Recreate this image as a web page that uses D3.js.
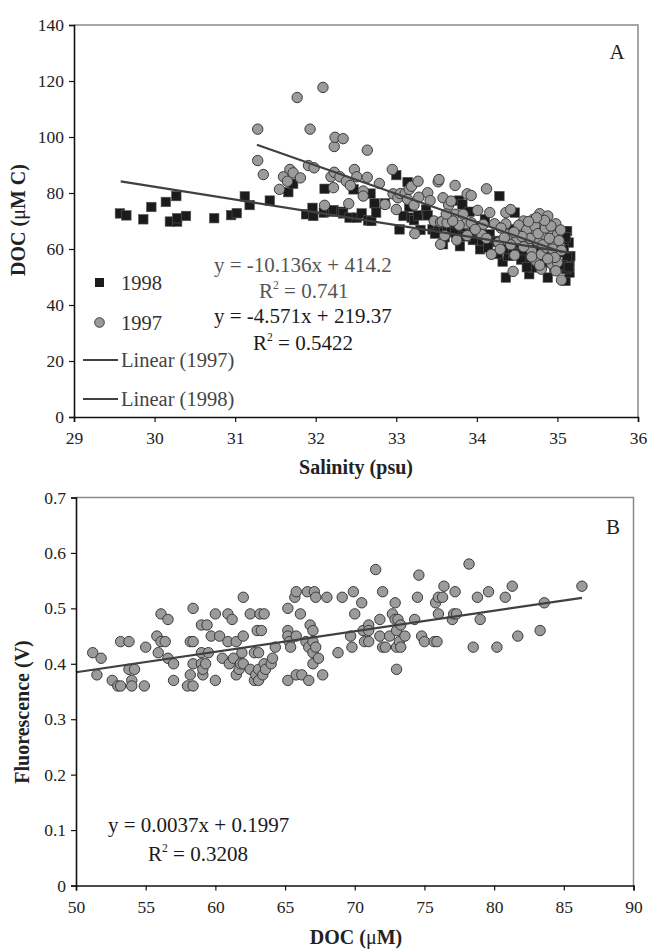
<!DOCTYPE html>
<html>
<head>
<meta charset="utf-8">
<script src="https://cdn.jsdelivr.net/npm/d3@7"></script>
<style>
  body { margin: 0; background: #fff; }
  svg { display: block; font-family: "Liberation Serif", "Times New Roman", serif; }
</style>
</head>
<body>
<svg id="chart" width="648" height="950"></svg>
<script>
// ---- Panel A: DOC vs salinity, two survey years ----
const sal1998 = [29.57,29.65,29.86,29.96,30.14,30.19,30.27,30.28,30.28,30.39,30.74,30.95,31.02,31.12,31.18,31.43,31.66,31.72,31.88,31.96,31.97,32.11,32.10,32.19,32.22,32.32,32.34,32.42,32.47,32.51,32.57,32.65,32.68,32.69,32.73,32.75,32.86,33.00,33.04,33.09,33.14,33.16,33.19,33.22,33.27,33.37,33.39,33.45,33.52,33.58,33.63,33.68,33.73,33.78,33.79,33.82,33.83,33.91,33.93,33.96,34.04,34.06,34.10,34.16,34.24,34.28,34.32,34.36,34.39,34.47,34.50,34.53,34.58,34.63,34.65,34.70,34.75,34.80,34.86,34.88,34.96,35.04,35.09,35.10,35.12,35.14,35.15,35.15,35.16,35.11,34.35,34.45,34.55,34.62,34.72,34.92,35.08,35.12,35.06,34.20,33.95,33.60,33.48,33.30,34.40,34.52,34.76,34.98,35.10,34.02,33.86,34.68,34.84,35.14,34.26,34.14];
const doc1998 = [72.7,72.0,70.6,75.0,76.8,69.8,78.9,69.8,71.0,71.8,71.0,72.1,72.8,78.8,75.7,77.3,80.3,83.3,72.4,74.7,71.8,81.5,73.0,73.3,73.9,73.3,72.7,71.2,81.3,71.2,72.7,70.2,79.8,70.0,76.3,73.0,76.3,86.4,67.0,71.8,83.9,75.0,71.2,70.3,72.0,74.1,72.0,67.0,66.4,61.7,66.4,67.6,65.8,77.3,61.0,75.9,66.4,73.3,65.2,68.2,59.9,62.9,70.6,65.2,62.9,78.9,55.5,49.8,57.5,73.0,66.4,60.5,58.1,55.2,51.0,53.4,56.9,63.5,58.1,49.8,53.4,58.7,66.4,48.6,66.4,62.3,55.2,51.6,57.5,52.8,60.0,58.5,56.2,53.5,57.5,55.5,60.0,57.2,54.2,62.5,63.2,64.2,65.5,66.8,67.0,62.2,60.2,61.0,64.2,68.2,64.5,62.8,55.2,53.5,58.2,60.5];

const sal1997 = [31.28,31.28,31.35,31.55,31.60,31.65,31.68,31.72,31.77,31.81,31.91,31.93,31.98,32.09,32.11,32.19,32.22,32.23,32.24,32.23,32.30,32.34,32.38,32.41,32.43,32.48,32.51,32.59,32.59,32.64,32.64,32.79,32.86,32.95,32.96,33.00,33.02,33.05,33.11,33.14,33.16,33.19,33.22,33.23,33.27,33.28,33.39,33.42,33.47,33.52,33.53,33.55,33.55,33.57,33.58,33.60,33.63,33.65,33.68,33.73,33.73,33.75,33.83,33.86,33.88,33.93,33.93,34.01,34.04,34.06,34.12,34.16,34.18,34.22,34.27,34.29,34.36,34.36,34.39,34.42,34.45,34.47,34.50,34.55,34.58,34.60,34.63,34.68,34.70,34.70,34.73,34.75,34.78,34.80,34.80,34.83,34.80,34.86,34.88,34.91,34.93,34.93,34.96,34.98,35.00,35.00,35.03,35.05,34.98,34.52,34.62,34.66,34.72,34.76,34.82,34.85,34.90,34.94,34.97,35.02,35.05,34.68,34.58,34.88,34.78,35.04,34.92,34.84,34.74,34.64,34.56,34.46,34.42,34.34,34.30,34.12,34.08,33.98,33.88,33.78,33.70,33.62];
const doc1997 = [102.8,91.6,86.6,81.3,85.8,84.2,88.4,87.2,114.1,85.4,89.8,102.8,89.0,117.7,75.6,85.8,81.9,96.6,99.9,87.4,85.8,99.4,84.2,76.2,82.7,88.4,85.8,80.7,78.9,95.3,85.6,83.4,75.9,88.4,79.7,74.1,78.3,79.8,79.8,77.7,81.3,82.4,75.7,65.5,84.2,78.5,80.1,77.3,70.0,84.0,84.8,61.7,69.6,69.8,78.3,64.8,69.4,75.7,77.1,82.7,72.4,63.2,72.4,69.0,79.7,79.1,69.4,73.8,66.4,65.2,81.5,73.0,58.1,69.0,62.3,59.9,73.0,69.0,65.2,74.1,52.0,57.8,63.5,67.6,70.0,65.2,61.1,59.3,70.6,66.4,55.8,62.9,72.6,58.1,69.0,65.2,52.8,60.5,71.8,66.4,62.9,54.6,58.1,69.0,65.2,55.2,61.1,48.9,52.2,68.5,66.8,63.8,68.2,65.5,61.5,67.5,63.8,60.0,57.0,63.0,59.5,57.2,60.8,56.5,54.2,66.8,68.2,70.2,71.2,69.8,64.5,66.0,61.5,64.0,67.5,63.8,68.8,67.0,64.8,68.5,70.0,72.5];

// Least-squares fits as printed on the chart
const fitSlopeA = [-10.136, -4.571];          // 1997, 1998
const fitInterceptA = [414.2, 219.37];
const fitRangeA = [[31.27, 35.06], [29.58, 35.15]];
const fitLabelA = ["y = -10.136x + 414.2", "y = -4.571x + 219.37"];
const fitR2A = ["0.741", "0.5422"];

const ticksSal = [29, 30, 31, 32, 33, 34, 35, 36];
const ticksDocA = [0, 20, 40, 60, 80, 100, 120, 140];

// ---- Panel B: fluorescence vs DOC ----
const docB = [51.2,51.5,51.8,52.6,53.0,53.2,53.2,53.8,53.8,54.0,54.0,54.2,54.9,55.0,55.8,55.9,56.1,56.1,56.4,56.6,56.6,57.0,57.0,58.0,58.2,58.2,58.4,58.4,58.4,58.4,59.0,59.0,59.0,59.1,59.1,59.3,59.4,59.5,59.7,60.0,60.0,60.3,60.5,60.9,60.9,61.0,61.2,61.3,61.5,61.5,61.7,61.8,61.9,62.0,62.0,62.0,62.5,62.5,62.8,62.8,62.9,63.0,63.1,63.1,63.1,63.2,63.3,63.4,63.5,63.5,63.6,64.0,64.1,64.3,65.2,65.2,65.2,65.2,65.3,65.4,65.7,65.8,65.8,65.8,66.1,66.2,66.5,66.6,66.7,66.7,66.8,67.0,67.0,67.0,67.0,67.1,67.2,67.2,67.4,67.7,68.0,68.8,69.1,69.7,69.8,69.9,70.0,70.5,70.6,70.7,71.0,71.0,71.0,71.5,71.8,71.8,72.0,72.0,72.2,72.5,72.7,72.9,72.9,73.0,73.0,73.0,73.1,73.2,73.3,73.3,73.6,74.3,74.5,74.6,74.8,75.0,75.7,75.8,75.9,76.0,76.0,76.3,76.4,77.0,77.1,77.2,77.3,78.2,78.5,78.8,79.0,79.6,80.2,80.8,81.3,81.7,83.3,83.6,86.3];
const fluorB = [0.42,0.38,0.41,0.37,0.36,0.36,0.44,0.44,0.39,0.37,0.36,0.39,0.36,0.43,0.45,0.42,0.49,0.44,0.44,0.48,0.41,0.40,0.37,0.36,0.38,0.44,0.50,0.44,0.40,0.36,0.47,0.42,0.40,0.38,0.39,0.40,0.47,0.42,0.45,0.49,0.37,0.45,0.41,0.49,0.44,0.40,0.48,0.41,0.44,0.38,0.39,0.40,0.42,0.45,0.52,0.40,0.49,0.39,0.42,0.37,0.38,0.46,0.42,0.39,0.37,0.49,0.46,0.38,0.49,0.40,0.39,0.40,0.41,0.43,0.50,0.46,0.45,0.37,0.44,0.43,0.52,0.53,0.45,0.38,0.49,0.38,0.44,0.53,0.37,0.43,0.47,0.46,0.44,0.42,0.40,0.53,0.52,0.43,0.41,0.38,0.52,0.42,0.52,0.45,0.43,0.53,0.49,0.51,0.46,0.44,0.47,0.46,0.44,0.57,0.48,0.45,0.53,0.43,0.43,0.45,0.49,0.48,0.51,0.46,0.43,0.39,0.48,0.44,0.43,0.47,0.45,0.48,0.52,0.56,0.45,0.44,0.44,0.51,0.44,0.52,0.49,0.52,0.54,0.48,0.49,0.53,0.49,0.58,0.43,0.52,0.48,0.53,0.43,0.52,0.54,0.45,0.46,0.51,0.54];

const fitSlopeB = 0.0037, fitInterceptB = 0.1997;
const fitRangeB = [50, 86.3];
const fitLabelB = "y = 0.0037x + 0.1997";
const fitR2B = "0.3208";

const ticksDocB = [50, 55, 60, 65, 70, 75, 80, 85, 90];
const ticksFluor = [0, 0.1, 0.2, 0.3, 0.4, 0.5, 0.6, 0.7];

// ---------------------------------------------------------------
const svg = d3.select("#chart");
const TICK_FONT = 17.5, LEG_FONT = 20.5, EQ_FONT = 21, TITLE_FONT = 20;
const LINE_COLOR = "#404040";

function frame(g, x, y) {
  const [x0, x1] = x.range(), [y0, y1] = y.range();
  // light top/right border of the plot area
  g.append("path")
    .attr("d", `M${x0},${y1}H${x1}V${y0}`)
    .attr("fill", "none").attr("stroke", "#8a8a8a").attr("stroke-width", 1.5);
}

function axes(g, x, y, xt, yt, yFmt) {
  const ax = g.append("g").attr("transform", `translate(0,${y.range()[0]})`)
    .call(d3.axisBottom(x).tickValues(xt).tickSize(5).tickPadding(10).tickFormat(d3.format("d")));
  const ay = g.append("g").attr("transform", `translate(${x.range()[0]},0)`)
    .call(d3.axisLeft(y).tickValues(yt).tickSize(5).tickPadding(5).tickFormat(yFmt));
  [ax, ay].forEach(a => {
    a.select(".domain").attr("stroke", "#111").attr("stroke-width", 1.6);
    a.selectAll(".tick line").attr("stroke", "#111").attr("stroke-width", 1.2);
    a.selectAll(".tick text").attr("font-family", "Liberation Serif").attr("font-size", TICK_FONT).attr("fill", "#222");
  });
}

function r2Text(g, x, y, value, color) {
  const t = g.append("text").attr("x", x).attr("y", y)
    .attr("font-size", EQ_FONT).attr("fill", color);
  t.append("tspan").text("R");
  t.append("tspan").attr("font-size", EQ_FONT * 0.55).attr("dy", -9).text("2");
  t.append("tspan").attr("dy", 9).text(" = " + value);
}

function circle(g, cx, cy, r) {
  g.append("circle").attr("cx", cx).attr("cy", cy).attr("r", r)
    .attr("fill", "#9b9b9b").attr("stroke", "#3a3a3a").attr("stroke-width", 1);
}

// ===== Panel A =====
const gA = svg.append("g");
const xA = d3.scaleLinear().domain([29, 36]).range([74, 638]);
const yA = d3.scaleLinear().domain([0, 140]).range([417, 25]);
frame(gA, xA, yA);

const pts98 = sal1998.map((s, i) => [s, doc1998[i]]);
const pts97 = sal1997.map((s, i) => [s, doc1997[i]]);
const SQ = 9.5;
gA.append("g").selectAll("rect").data(pts98).join("rect")
  .attr("x", d => xA(d[0]) - SQ / 2).attr("y", d => yA(d[1]) - SQ / 2)
  .attr("width", SQ).attr("height", SQ)
  .attr("fill", "#1b1b1b").attr("stroke", "#555").attr("stroke-width", 0.6);
gA.append("g").selectAll("circle").data(pts97).join("circle")
  .attr("cx", d => xA(d[0])).attr("cy", d => yA(d[1])).attr("r", 5.2)
  .attr("fill", "#9b9b9b").attr("stroke", "#3a3a3a").attr("stroke-width", 1);

fitSlopeA.forEach((m, i) => {
  const [a, b] = fitRangeA[i];
  gA.append("line")
    .attr("x1", xA(a)).attr("y1", yA(m * a + fitInterceptA[i]))
    .attr("x2", xA(b)).attr("y2", yA(m * b + fitInterceptA[i]))
    .attr("stroke", LINE_COLOR).attr("stroke-width", 2.2);
});

axes(gA, xA, yA, ticksSal, ticksDocA, d3.format("d"));

// fit equations
const eqColorA = ["#555", "#1a1a1a"];
gA.append("text").attr("x", 214).attr("y", 272).attr("font-size", EQ_FONT).attr("fill", eqColorA[0]).text(fitLabelA[0]);
r2Text(gA, 259, 298, fitR2A[0], eqColorA[0]);
gA.append("text").attr("x", 214).attr("y", 323).attr("font-size", EQ_FONT).attr("fill", eqColorA[1]).text(fitLabelA[1]);
r2Text(gA, 253, 350, fitR2A[1], eqColorA[1]);

// legend
const leg = gA.append("g");
leg.append("rect").attr("x", 99.5 - 4.5).attr("y", 282.5 - 4.5).attr("width", 9).attr("height", 9).attr("fill", "#1b1b1b");
leg.append("text").attr("x", 121).attr("y", 289.5).attr("font-size", LEG_FONT).attr("fill", "#333").text("1998");
circle(leg, 99.5, 322.5, 4.8);
leg.append("text").attr("x", 121).attr("y", 329.5).attr("font-size", LEG_FONT).attr("fill", "#333").text("1997");
[["Linear (1997)", 360], ["Linear (1998)", 399]].forEach(([t, yy]) => {
  leg.append("line").attr("x1", 83).attr("x2", 118).attr("y1", yy).attr("y2", yy)
    .attr("stroke", LINE_COLOR).attr("stroke-width", 2);
  leg.append("text").attr("x", 121).attr("y", yy + 7).attr("font-size", LEG_FONT).attr("fill", "#444").text(t);
});

gA.append("text").attr("x", 617).attr("y", 59).attr("text-anchor", "middle").attr("font-size", EQ_FONT).attr("fill", "#222").text("A");

// axis titles
const tA = gA.append("text").attr("transform", "translate(25,220) rotate(-90)")
  .attr("text-anchor", "middle").attr("font-size", TITLE_FONT).attr("font-weight", "bold").attr("fill", "#222");
tA.append("tspan").text("DOC (");
tA.append("tspan").attr("font-weight", "normal").text("μ");
tA.append("tspan").text("M C)");
gA.append("text").attr("x", 356).attr("y", 474).attr("text-anchor", "middle")
  .attr("font-size", TITLE_FONT).attr("font-weight", "bold").attr("fill", "#222").text("Salinity (psu)");

// ===== Panel B =====
const gB = svg.append("g");
const xB = d3.scaleLinear().domain([50, 90]).range([76, 633.5]);
const yB = d3.scaleLinear().domain([0, 0.7]).range([885.5, 497.5]);
frame(gB, xB, yB);

const ptsB = docB.map((d, i) => [d, fluorB[i]]);
gB.append("g").selectAll("circle").data(ptsB).join("circle")
  .attr("cx", d => xB(d[0])).attr("cy", d => yB(d[1])).attr("r", 5.2)
  .attr("fill", "#9b9b9b").attr("stroke", "#3a3a3a").attr("stroke-width", 1);

gB.append("line")
  .attr("x1", xB(fitRangeB[0])).attr("y1", yB(fitSlopeB * fitRangeB[0] + fitInterceptB))
  .attr("x2", xB(fitRangeB[1])).attr("y2", yB(fitSlopeB * fitRangeB[1] + fitInterceptB))
  .attr("stroke", LINE_COLOR).attr("stroke-width", 2.2);

axes(gB, xB, yB, ticksDocB, ticksFluor, d => d === 0 ? "0" : d3.format(".1f")(d));

gB.append("text").attr("x", 108).attr("y", 832).attr("font-size", EQ_FONT).attr("fill", "#1a1a1a").text(fitLabelB);
r2Text(gB, 148, 861, fitR2B, "#1a1a1a");

gB.append("text").attr("x", 613).attr("y", 534).attr("text-anchor", "middle").attr("font-size", EQ_FONT).attr("fill", "#222").text("B");

gB.append("text").attr("transform", "translate(29,712) rotate(-90)")
  .attr("text-anchor", "middle").attr("font-size", TITLE_FONT).attr("font-weight", "bold").attr("fill", "#222")
  .text("Fluorescence (V)");
const tB = gB.append("text").attr("x", 356).attr("y", 944).attr("text-anchor", "middle")
  .attr("font-size", TITLE_FONT).attr("font-weight", "bold").attr("fill", "#222");
tB.append("tspan").text("DOC (");
tB.append("tspan").attr("font-weight", "normal").text("μ");
tB.append("tspan").text("M)");
</script>
</body>
</html>
